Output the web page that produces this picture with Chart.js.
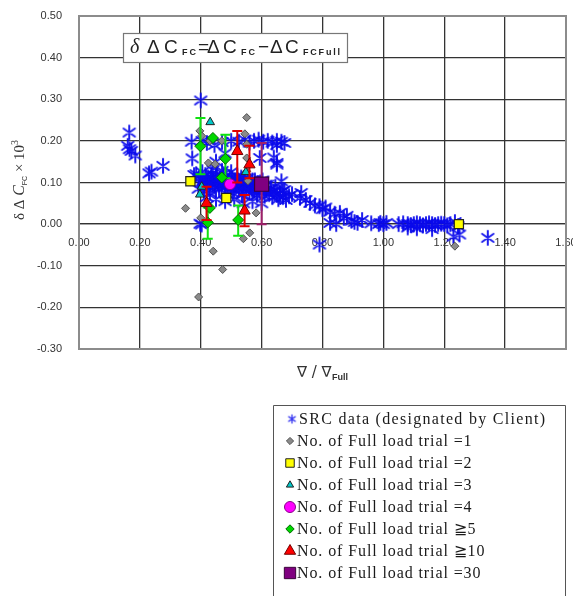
<!DOCTYPE html>
<html><head><meta charset="utf-8">
<script src="https://cdn.jsdelivr.net/npm/chart.js@4/dist/chart.umd.min.js"></script>
<style>html,body{margin:0;padding:0;background:#fff;overflow:hidden}canvas{display:block}</style>
</head><body>
<canvas id="c" width="573" height="596" style="width:573px;height:596px"></canvas>
<script>
// ---------- DATA ----------
const xTickValues = [0, 0.2, 0.4, 0.6, 0.8, 1.0, 1.2, 1.4, 1.6];
const xTickLabels = ['0.00','0.20','0.40','0.60','0.80','1.00','1.20','1.40','1.60'];
const yTickValues = [-0.3, -0.2, -0.1, 0, 0.1, 0.2, 0.3, 0.4, 0.5];
const yTickLabels = ['-0.30','-0.20','-0.10','0.00','0.10','0.20','0.30','0.40','0.50'];

const seriesLabels = [
  'SRC data (designated by Client)',
  'No. of Full load trial =1',
  'No. of Full load trial =2',
  'No. of Full load trial =3',
  'No. of Full load trial =4',
  'No. of Full load trial \u22675',
  'No. of Full load trial \u226710',
  'No. of Full load trial =30'
];

const srcData = [
  [0.165,0.220],[0.160,0.188],[0.166,0.180],[0.172,0.176],[0.185,0.165],[0.230,0.122],[0.238,0.126],[0.276,0.140],
  [0.400,0.297],[0.370,0.198],[0.372,0.158],[0.378,0.118],[0.398,0.001],[0.392,0.085],[0.403,-0.001],
  [0.405,0.200],[0.420,0.195],[0.445,0.190],[0.470,0.197],[0.500,0.200],[0.525,0.198],[0.545,0.203],[0.560,0.196],
  [0.575,0.200],[0.590,0.203],[0.605,0.198],[0.620,0.200],[0.635,0.196],[0.650,0.200],[0.665,0.198],[0.675,0.195],
  [0.594,0.159],[0.650,0.147],[0.640,0.160],[0.450,0.150],[0.480,0.170],[0.650,0.190],[0.650,0.143],
  [0.385,0.120],[0.395,0.110],[0.405,0.125],[0.410,0.105],[0.415,0.118],[0.420,0.095],[0.425,0.112],[0.430,0.100],
  [0.435,0.120],[0.440,0.108],[0.445,0.090],[0.450,0.115],[0.455,0.102],[0.460,0.085],[0.465,0.110],[0.470,0.098],
  [0.475,0.120],[0.480,0.090],[0.485,0.105],[0.490,0.080],[0.495,0.112],[0.500,0.095],[0.505,0.075],[0.510,0.105],
  [0.515,0.090],[0.520,0.115],[0.525,0.085],[0.530,0.100],[0.535,0.070],[0.540,0.095],[0.545,0.110],[0.550,0.085],
  [0.555,0.100],[0.560,0.075],[0.565,0.092],[0.570,0.105],[0.575,0.080],[0.580,0.095],[0.585,0.070],[0.590,0.088],
  [0.595,0.100],[0.600,0.078],[0.605,0.090],[0.610,0.068],[0.615,0.082],[0.620,0.095],[0.625,0.072],[0.630,0.085],
  [0.635,0.065],[0.640,0.078],[0.645,0.090],[0.650,0.070],[0.655,0.060],[0.660,0.075],[0.665,0.103],[0.670,0.065],
  [0.675,0.082],[0.680,0.058],[0.690,0.067],[0.700,0.072],[0.440,0.130],[0.470,0.128],[0.500,0.125],[0.420,0.065],
  [0.450,0.060],[0.480,0.055],[0.510,0.060],[0.540,0.050],[0.570,0.055],[0.600,0.050],[0.410,0.080],[0.430,0.075],
  [0.660,0.067],[0.670,0.080],
  [0.402,0.100],[0.412,0.092],[0.418,0.110],[0.428,0.088],[0.433,0.108],[0.438,0.095],[0.448,0.100],[0.453,0.118],
  [0.458,0.095],[0.463,0.105],[0.468,0.088],[0.473,0.108],[0.478,0.100],[0.483,0.115],[0.488,0.095],[0.493,0.102],
  [0.498,0.088],[0.503,0.110],[0.508,0.095],[0.513,0.100],[0.518,0.092],[0.523,0.105],[0.528,0.090],[0.533,0.112],
  [0.538,0.085],[0.543,0.100],[0.548,0.095],[0.553,0.110],[0.558,0.088],[0.563,0.100],[0.568,0.085],[0.573,0.095],
  [0.578,0.105],[0.583,0.085],[0.588,0.098],[0.593,0.080],[0.598,0.092],[0.603,0.105],[0.608,0.080],[0.613,0.095],
  [0.726,0.063],[0.730,0.075],[0.745,0.058],[0.759,0.051],[0.775,0.045],[0.790,0.043],[0.800,0.036],[0.810,0.040],
  [0.825,0.030],[0.840,0.025],[0.857,0.027],[0.870,0.015],[0.880,0.020],[0.895,0.008],[0.905,0.005],[0.915,0.003],
  [0.930,0.010],[0.825,0.003],[0.845,0.000],[0.790,-0.049],[0.960,0.002],[0.985,0.000],[0.990,0.003],[1.000,0.000],
  [1.010,0.003],[1.050,0.000],[1.065,0.002],[1.080,0.000],[1.090,-0.002],[1.100,0.000],[1.110,0.002],[1.120,0.000],
  [1.130,-0.003],[1.140,0.000],[1.150,0.002],[1.160,0.000],[1.170,-0.002],[1.180,0.000],[1.190,0.001],[1.200,0.000],
  [1.210,-0.003],[1.220,0.000],[1.230,-0.030],[1.250,-0.025],[1.235,0.005],[1.245,-0.005],[1.343,-0.033],
  [1.110,-0.010],[1.160,-0.012],[1.080,-0.008]
];
const n1Data = [
  [0.551,0.256],[0.397,0.224],[0.403,0.212],[0.430,0.200],[0.469,0.200],[0.545,0.217],[0.551,0.192],[0.425,0.147],
  [0.447,0.144],[0.551,0.159],[0.551,0.127],[0.555,0.104],[0.350,0.038],[0.400,0.015],[0.441,-0.065],[0.472,-0.109],
  [0.393,-0.175],[0.540,-0.035],[0.561,-0.021],[0.582,0.027],[1.235,-0.053]
];
const n2Data = [[0.366,0.103],[0.484,0.063],[1.248,0.000]];
const n3Data = [[0.431,0.245],[0.403,0.090],[0.397,0.071],[0.548,0.125]];
const n4Data = [[0.496,0.096]];
const n5Data = [[0.399,0.187],[0.440,0.207],[0.481,0.157],[0.469,0.112],[0.430,0.039],[0.423,0.004],[0.523,0.010]];
const n5ErrLow  = [0.120, null, 0.110, null, null, -0.035, -0.028];
const n5ErrHigh = [0.255, null, 0.215, null, null, 0.040, 0.045];
const n10Data = [[0.520,0.175],[0.560,0.143],[0.419,0.050],[0.544,0.032]];
const n10ErrLow  = [0.100, 0.110, 0.010, -0.005];
const n10ErrHigh = [0.224, 0.188, 0.090, 0.070];
const n30Data = [[0.600,0.096]];
const n30ErrLow  = [0.000];
const n30ErrHigh = [0.195];

// ---------- STYLE HELPERS ----------
function makeStar(r, lw, color){
  const s = Math.ceil(r*2+lw*2+2);
  const cv = document.createElement('canvas'); cv.width = s; cv.height = s;
  const g = cv.getContext('2d'); const c = s/2;
  g.strokeStyle = color; g.lineWidth = lw; g.lineCap='round';
  g.beginPath();
  g.moveTo(c, c-r); g.lineTo(c, c+r);
  const a = Math.PI/3.3;
  g.moveTo(c - r*Math.sin(a), c - r*Math.cos(a)); g.lineTo(c + r*Math.sin(a), c + r*Math.cos(a));
  g.moveTo(c + r*Math.sin(a), c - r*Math.cos(a)); g.lineTo(c - r*Math.sin(a), c + r*Math.cos(a));
  g.stroke();
  return cv;
}
const starImg = makeStar(7, 2, 'rgba(10,10,235,0.92)');
const starLegend = makeStar(4, 1.3, 'rgb(40,40,240)');

const toPts = a => a.map(p => ({x:p[0], y:p[1]}));

const datasets = [
  {label: seriesLabels[0], data: toPts(srcData), pointStyle: starImg, order: 8, lg:{img: starLegend}},
  {label: seriesLabels[1], data: toPts(n1Data), pointStyle:'rectRot', radius:4, backgroundColor:'#8a8a8a', borderColor:'#505050', borderWidth:1, order:7, lg:{r:3.6}},
  {label: seriesLabels[2], data: toPts(n2Data), pointStyle:'rect', radius:6.5, backgroundColor:'#ffff00', borderColor:'#222', borderWidth:1.2, order:6, lg:{r:6}},
  {label: seriesLabels[3], data: toPts(n3Data), pointStyle:'triangle', radius:5, backgroundColor:'#00c8c8', borderColor:'#222', borderWidth:1, order:5, lg:{r:4.2}},
  {label: seriesLabels[4], data: toPts(n4Data), pointStyle:'circle', radius:5.5, backgroundColor:'#ff00ff', borderColor:'#8a008a', borderWidth:1, order:4, lg:{r:5.5}},
  {label: seriesLabels[5], data: toPts(n5Data), pointStyle:'rectRot', radius:5.5, backgroundColor:'#00d800', borderColor:'#006a00', borderWidth:1, order:3,
    errLow:n5ErrLow, errHigh:n5ErrHigh, errColor:'#10e010', lg:{r:4.2}},
  {label: seriesLabels[6], data: toPts(n10Data), pointStyle:'triangle', radius:6.5, backgroundColor:'#ff0000', borderColor:'#700000', borderWidth:1, order:2,
    errLow:n10ErrLow, errHigh:n10ErrHigh, errColor:'#e00000', lg:{r:6.5}},
  {label: seriesLabels[7], data: toPts(n30Data), pointStyle:'rect', radius:10, backgroundColor:'#800080', borderColor:'#3a003a', borderWidth:1.2, order:1,
    errLow:n30ErrLow, errHigh:n30ErrHigh, errColor:'#a0206a', lg:{r:8}}
];
datasets.forEach(d => { d.showLine = false; if (d.radius === undefined) d.radius = 8; d.hoverRadius = d.radius; });

// ---------- PLUGINS ----------
const PLOT_RIGHT = 566;
const layoutFix = {
  id:'layoutFix',
  afterLayout(chart){
    const a = chart.chartArea, xs = chart.scales.x;
    if (Math.abs(a.right - PLOT_RIGHT) < 0.5) return;
    a.right = PLOT_RIGHT; a.width = a.right - a.left;
    xs.right = PLOT_RIGHT; xs.width = xs.right - xs.left;
    xs.configure();
  }
};

const errPlugin = {
  id:'errbars',
  beforeDatasetDraw(chart, args){
    const ds = chart.data.datasets[args.index];
    if(!ds.errLow) return;
    const ctx = chart.ctx, xs = chart.scales.x, ys = chart.scales.y;
    ctx.save(); ctx.strokeStyle = ds.errColor; ctx.lineWidth = 2;
    ds.data.forEach((p,i)=>{
      const lo = ds.errLow[i], hi = ds.errHigh[i];
      if(lo == null) return;
      const px = xs.getPixelForValue(p.x), y1 = ys.getPixelForValue(lo), y2 = ys.getPixelForValue(hi);
      ctx.beginPath();
      ctx.moveTo(px,y1); ctx.lineTo(px,y2);
      ctx.moveTo(px-5,y1); ctx.lineTo(px+5,y1);
      ctx.moveTo(px-5,y2); ctx.lineTo(px+5,y2);
      ctx.stroke();
    });
    ctx.restore();
  }
};

function drawParts(ctx, parts, baseY){
  parts.forEach(p=>{
    ctx.font = p.f;
    ctx.letterSpacing = p.ls || '0px';
    ctx.fillText(p.t, p.x, baseY + (p.dy||0));
  });
  ctx.letterSpacing = '0px';
}

const zeroPad = () => ({left:0, top:0, right:0, bottom:0});

const decoPlugin = {
  id:'deco',
  beforeDatasetsDraw(chart){
    const {ctx, chartArea:a} = chart;
    ctx.save(); ctx.strokeStyle='#8c8c8c'; ctx.lineWidth=2;
    ctx.strokeRect(a.left, a.top, a.right-a.left, a.bottom-a.top);
    ctx.restore();
  },
  afterDraw(chart){
    const ctx = chart.ctx;
    ctx.save();
    // formula box
    ctx.fillStyle='#fff'; ctx.fillRect(123,33,224,29);
    ctx.strokeStyle='#777'; ctx.lineWidth=1.2; ctx.strokeRect(123.5,33.5,224,29);
    ctx.fillStyle='#222'; ctx.textBaseline='alphabetic'; ctx.textAlign='left';
    const M = '19px "Liberation Sans"', S = 'bold 9px "Liberation Sans"';
    drawParts(ctx, [
      {t:'\u03b4', x:130, f:'italic 20px "Liberation Serif"'},
      {t:'\u0394', x:147, f:M}, {t:'C', x:164, f:M}, {t:'FC', x:182, f:S, dy:2, ls:'2px'},
      {t:'=', x:198, f:M},
      {t:'\u0394', x:207, f:M}, {t:'C', x:223, f:M}, {t:'FC', x:241, f:S, dy:2, ls:'2px'},
      {t:'\u2212', x:258, f:M},
      {t:'\u0394', x:270, f:M}, {t:'C', x:285, f:M}, {t:'FCFull', x:303, f:S, dy:2, ls:'1.8px'}
    ], 53);

    // y-axis title (rotated)
    ctx.save();
    ctx.translate(24, 180); ctx.rotate(-Math.PI/2);
    ctx.fillStyle='#333';
    const yParts = [
      {t:'\u03b4 \u0394 ', f:'15px "Liberation Serif"'},
      {t:'C', f:'italic 16px "Liberation Serif"'},
      {t:'FC', f:'7px "Liberation Sans"', dy:3},
      {t:' \u00d7 10', f:'15px "Liberation Serif"'},
      {t:'3', f:'10px "Liberation Serif"', dy:-6}
    ];
    let tot = 0; yParts.forEach(p=>{ctx.font=p.f; p.w = ctx.measureText(p.t).width; tot += p.w;});
    let xx = -tot/2; yParts.forEach(p=>{p.x = xx; xx += p.w;});
    drawParts(ctx, yParts, 0);
    ctx.restore();

    // x-axis title
    ctx.fillStyle='#333';
    drawParts(ctx, [
      {t:'\u2207 / \u2207', x:297, f:'15px "DejaVu Sans"'},
      {t:'Full', x:332, f:'bold 9px "Liberation Sans"', dy:3}
    ], 377);

    // legend
    ctx.strokeStyle='#555'; ctx.lineWidth=1;
    ctx.beginPath(); ctx.moveTo(273.5,600); ctx.lineTo(273.5,405.5); ctx.lineTo(565.5,405.5); ctx.lineTo(565.5,600); ctx.stroke();
    ctx.textBaseline='middle';
    ctx.font='16px "Liberation Serif"';
    chart.data.datasets.forEach((ds,i)=>{
      const cy = 419 + i*22;
      const mx = i===0 ? 292 : 290;
      if (ds.lg.img){
        ctx.drawImage(ds.lg.img, mx - ds.lg.img.width/2, cy - ds.lg.img.height/2);
      } else {
        ctx.fillStyle = ds.backgroundColor; ctx.strokeStyle = ds.borderColor; ctx.lineWidth = 1;
        Chart.helpers.drawPoint(ctx, {pointStyle: ds.pointStyle, radius: ds.lg.r, rotation:0, borderWidth:1}, mx, cy);
      }
      ctx.fillStyle='#1a1a1a';
      ctx.letterSpacing = i===0 ? '1.3px' : '0.9px';
      ctx.fillText(ds.label, i===0 ? 299 : 297, cy+1);
    });
    ctx.letterSpacing='0px';
    ctx.restore();
  }
};

// ---------- CHART ----------
new Chart(document.getElementById('c'), {
  type:'scatter',
  data:{datasets},
  options:{
    responsive:false, devicePixelRatio:1, animation:false,
    layout:{padding:{left:0, top:16, right:7, bottom:247}},
    plugins:{legend:{display:false}, tooltip:{enabled:false}},
    scales:{
      x:{
        type:'linear', min:0, max:1.6, position:{y:0},
        afterBuildTicks: s => { s.ticks = xTickValues.map(v=>({value:v})); },
        afterFit: s => { s.paddingLeft = 0; s.paddingRight = 0; s.paddingTop = 0; s.paddingBottom = 0; s.getPadding = zeroPad; },
        ticks:{callback:(v)=>{const i = xTickValues.findIndex(t=>Math.abs(t-v)<1e-9); return i>=0 ? xTickLabels[i] : '';},
               font:{family:'"Liberation Sans"', size:11}, color:'#333', padding:12, maxRotation:0, autoSkip:false},
        grid:{color:'#333', lineWidth:1.3, drawTicks:false},
        border:{color:'#333', width:1.3}
      },
      y:{
        type:'linear', min:-0.3, max:0.5,
        afterBuildTicks: s => { s.ticks = yTickValues.map(v=>({value:v})); },
        afterFit: s => { s.width = 79; s.paddingTop = 0; s.paddingBottom = 0; s.paddingLeft = 0; s.paddingRight = 0; s.getPadding = zeroPad; },
        ticks:{callback:(v)=>{const i = yTickValues.findIndex(t=>Math.abs(t-v)<1e-9); return i>=0 ? yTickLabels[i] : '';},
               font:{family:'"Liberation Sans"', size:11}, color:'#333', padding:17, autoSkip:false},
        grid:{color:'#333', lineWidth:1.3, drawTicks:false},
        border:{color:'#8c8c8c', width:2}
      }
    }
  },
  plugins:[layoutFix, errPlugin, decoPlugin]
});
</script>
</body></html>
